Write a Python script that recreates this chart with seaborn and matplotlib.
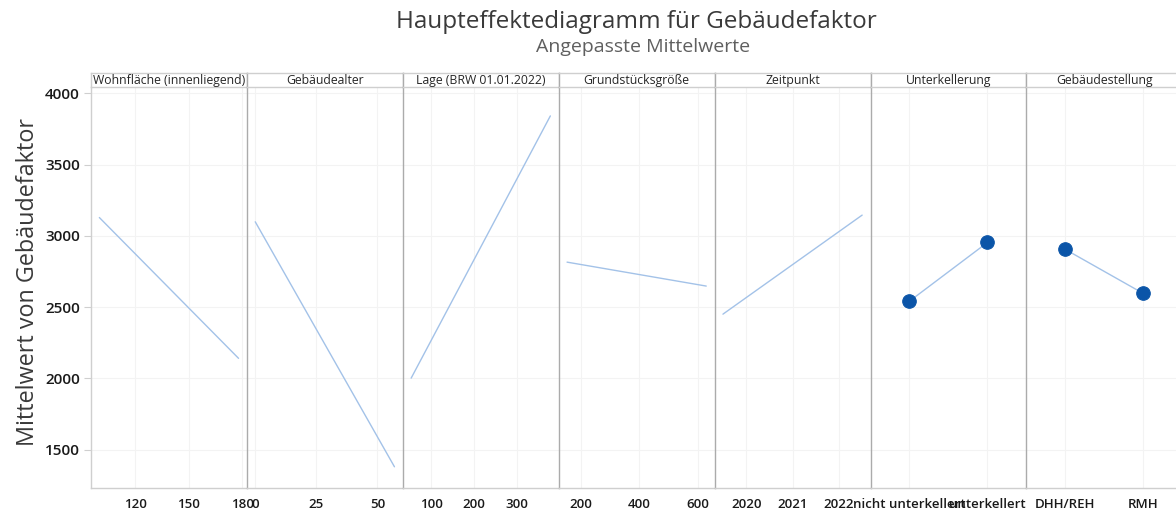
import matplotlib
matplotlib.use('Agg')
import matplotlib.pyplot as plt
import numpy as np
import pandas as pd
import seaborn as sns

# values (fitted means per factor)
wohnflaeche_x = [100, 178]
wohnflaeche_y = [3128, 2140]
gebaeudealter_x = [0, 57]
gebaeudealter_y = [3098, 1379]
lage_x = [53, 378]
lage_y = [2001, 3841]
grundstueck_x = [153, 629]
grundstueck_y = [2815, 2647]
zeitpunkt_x = [2019.5, 2022.5]
zeitpunkt_y = [2450, 3145]
unterkellerung_cats = ['nicht unterkellert', 'unterkellert']
unterkellerung_y = [2541, 2953]
stellung_cats = ['DHH/REH', 'RMH']
stellung_y = [2904, 2595]

panel_titles = ['Wohnfläche (innenliegend)', 'Gebäudealter', 'Lage (BRW 01.01.2022)',
                'Grundstücksgröße', 'Zeitpunkt', 'Unterkellerung', 'Gebäudestellung']
panel_ticks = [[120, 150, 180], [0, 25, 50], [100, 200, 300], [200, 400, 600],
               [2020, 2021, 2022], None, None]
y_ticks = [1500, 2000, 2500, 3000, 3500, 4000]

continuous = [(wohnflaeche_x, wohnflaeche_y), (gebaeudealter_x, gebaeudealter_y),
              (lage_x, lage_y), (grundstueck_x, grundstueck_y), (zeitpunkt_x, zeitpunkt_y)]
categorical = [(unterkellerung_cats, unterkellerung_y), (stellung_cats, stellung_y)]

sns.set_theme(style='white')
plt.rcParams['font.family'] = ['Open Sans', 'DejaVu Sans']

W, H = 1176, 511
fig = plt.figure(figsize=(W / 100, H / 100), dpi=100)

line_c = '#A3C2E8'
marker_c = '#0B55A8'
grid_c = '#F3F3F3'
frame_c = '#CFCFCF'
sep_c = '#ABABAB'

left0 = 91.0
pw = 155.9
top_px, bot_px = 86.7, 488.3
head_px = 13.4

for i, title in enumerate(panel_titles):
    l = left0 + i * pw
    ax = fig.add_axes([l / W, 1 - bot_px / H, pw / W, (bot_px - top_px) / H])
    hax = fig.add_axes([l / W, 1 - top_px / H, pw / W, head_px / H])

    if i < 5:
        xs, ys = continuous[i]
        df = pd.DataFrame({'x': xs, 'y': ys})
        sns.lineplot(data=df, x='x', y='y', color=line_c, linewidth=1.0, ax=ax)
        ax.margins(x=0.06)
        ax.set_xticks(panel_ticks[i])
        ax.set_xticklabels([str(t) for t in panel_ticks[i]])
    else:
        cats, ys = categorical[i - 5]
        df = pd.DataFrame({'pos': np.arange(len(cats)), 'y': ys})
        sns.lineplot(data=df, x='pos', y='y', color=line_c, linewidth=1.0, ax=ax)
        sns.scatterplot(data=df, x='pos', y='y', color=marker_c, edgecolor=marker_c,
                        s=95, ax=ax, zorder=3)
        ax.set_xlim(-0.5, len(cats) - 0.5)
        ax.set_xticks(np.arange(len(cats)))
        ax.set_xticklabels(cats)

    ax.set_ylim(1228, 4046)
    ax.set_yticks(y_ticks)
    ax.set_xlabel('')
    ax.set_ylabel('')
    ax.grid(True, color=grid_c, linewidth=0.8)
    ax.set_axisbelow(True)
    ax.tick_params(axis='x', length=4, width=0.8, color=frame_c, pad=3,
                   labelsize=9.5, labelcolor='#1A1A1A')
    for s in ['top', 'right']:
        ax.spines[s].set_visible(False)
    ax.spines['bottom'].set_color(frame_c)
    ax.spines['bottom'].set_linewidth(1.0)
    if i == 0:
        ax.spines['left'].set_color(frame_c)
        ax.tick_params(axis='y', left=True, length=5, width=0.8, color=frame_c, pad=3,
                       labelsize=11, labelcolor='#1A1A1A')
        for lab in ax.get_yticklabels():
            lab.set_fontweight('semibold')
    else:
        ax.spines['left'].set_color(sep_c)
        ax.tick_params(axis='y', left=False, labelleft=False)
    ax.spines['left'].set_linewidth(1.0)
    for lab in ax.get_xticklabels():
        lab.set_fontweight('semibold')

    # header strip
    hax.set_xticks([])
    hax.set_yticks([])
    hax.set_facecolor('white')
    for s in hax.spines.values():
        s.set_color(frame_c)
        s.set_linewidth(1.0)
    hax.spines['left'].set_color(sep_c if i > 0 else frame_c)
    hax.text(0.5, 0.45, title, ha='center', va='center', fontsize=8.8,
             color='#262626', transform=hax.transAxes)

fig.text(636 / W, 1 - 22 / H, 'Haupteffektediagramm für Gebäudefaktor', ha='center',
         va='center', fontsize=17.5, color='#3A3A3A')
fig.text(643 / W, 1 - 47 / H, 'Angepasste Mittelwerte', ha='center', va='center',
         fontsize=14, color='#5F5F5F')
fig.text(28 / W, 1 - 282 / H, 'Mittelwert von Gebäudefaktor', ha='center', va='center',
         rotation=90, fontsize=16.8, color='#3A3A3A')

fig.savefig('out.png', dpi=100)
